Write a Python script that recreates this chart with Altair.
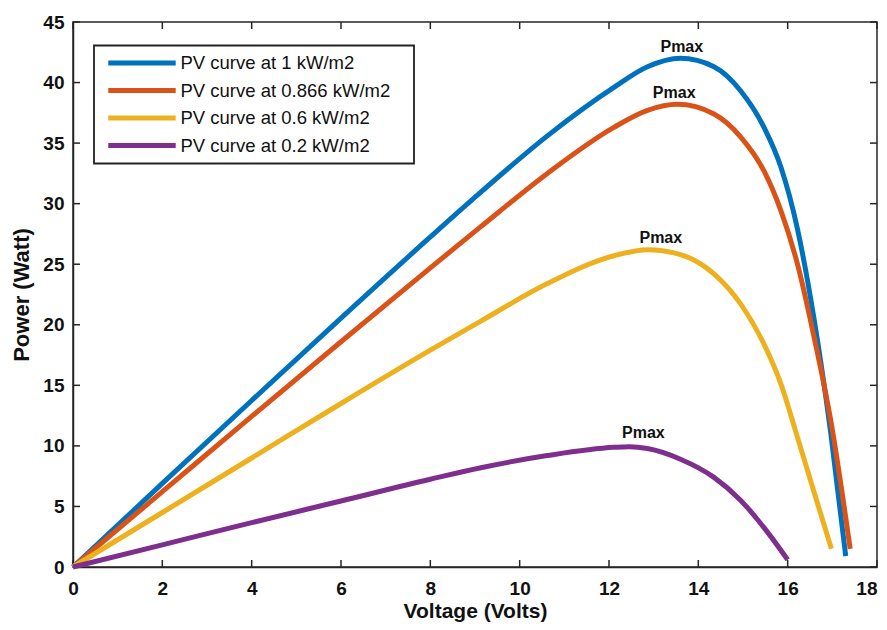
import altair as alt
import pandas as pd

series_names = ["PV curve at 1 kW/m2", "PV curve at 0.866 kW/m2",
                "PV curve at 0.6 kW/m2", "PV curve at 0.2 kW/m2"]
series_colors = ["#0072BD", "#D95319", "#EDB120", "#7E2F8E"]

v_1kw = [0, 2, 4, 6, 8, 9.13, 10.62, 12.11, 12.86, 13.6, 14.35, 14.95, 15.47, 15.85, 16.22, 16.59, 16.97, 17.3]
p_1kw = [0, 6.9, 13.75, 20.55, 27.25, 30.95, 35.6, 39.6, 41.3, 42.0, 41.3, 39.3, 36.3, 33.0, 27.9, 20.5, 10.9, 0.9]

v_0866 = [0, 2, 4, 6, 8, 9.13, 10.62, 12.11, 12.86, 13.53, 14.35, 14.95, 15.47, 15.85, 16.22, 16.59, 16.97, 17.4]
p_0866 = [0, 6.22, 12.44, 18.6, 24.7, 28.1, 32.5, 36.3, 37.7, 38.2, 37.4, 35.5, 32.7, 29.4, 25.0, 19.0, 12.0, 1.5]

v_06 = [0, 2, 4, 6, 8, 9.13, 10.62, 12.11, 12.86, 13.6, 14.35, 14.95, 15.47, 15.85, 16.22, 16.59, 16.98]
p_06 = [0, 4.5, 9.0, 13.5, 17.9, 20.3, 23.4, 25.7, 26.2, 25.8, 24.2, 21.7, 18.4, 15.1, 10.7, 6.2, 1.5]

v_02 = [0, 2, 4, 6, 8, 9.13, 10.62, 12.11, 12.45, 12.86, 13.6, 14.35, 14.95, 15.47, 16.0]
p_02 = [0, 1.83, 3.66, 5.45, 7.25, 8.2, 9.2, 9.88, 9.93, 9.78, 8.9, 7.4, 5.5, 3.25, 0.6]

pmax_label = "Pmax"
pmax_v = [13.63, 13.46, 13.16, 12.77]
pmax_p = [42.9, 39.1, 27.2, 11.1]

x_ticks = [0, 2, 4, 6, 8, 10, 12, 14, 16, 18]
y_ticks = [0, 5, 10, 15, 20, 25, 30, 35, 40, 45]

FONT = "Liberation Sans"
W, H = 804, 545

rows = []
for name, vs, ps in zip(series_names, [v_1kw, v_0866, v_06, v_02], [p_1kw, p_0866, p_06, p_02]):
    for v, p in zip(vs, ps):
        rows.append({"Series": name, "V": v, "P": p})
df = pd.DataFrame(rows)
df_pmax = pd.DataFrame({"V": pmax_v, "P": pmax_p, "label": [pmax_label] * 4})
df_xt = pd.DataFrame({"V": x_ticks})
df_yt = pd.DataFrame({"P": y_ticks})

xscale = alt.Scale(domain=[0, 18], nice=False, zero=False)
yscale = alt.Scale(domain=[0, 45], nice=False, zero=False)

x_axis = alt.Axis(values=x_ticks, ticks=False, labelPadding=12, labelFontSize=19,
                  labelFontWeight="bold", labelFont=FONT, labelColor="#111111",
                  labelFlush=False, labelOverlap=False,
                  labelAlign=alt.condition("datum.value == 18", alt.value("right"), alt.value("center")),
                  title="Voltage (Volts)", titleFontSize=21, titleFontWeight="bold",
                  titleFont=FONT, titleColor="#111111", titleY=50,
                  titleBaseline="alphabetic", grid=False,
                  domainColor="#262626", domainWidth=1.5)
y_axis = alt.Axis(values=y_ticks, ticks=False, labelPadding=9, labelFontSize=19,
                  labelFontWeight="bold", labelFont=FONT, labelColor="#111111",
                  labelFlush=False, labelOverlap=False,
                  title="Power (Watt)", titleFontSize=22, titleFontWeight="bold",
                  titleFont=FONT, titleColor="#111111", titleX=-52,
                  titleBaseline="middle", grid=False,
                  domainColor="#262626", domainWidth=1.5)

legend = alt.Legend(title="x", titleOrient="right", titleOpacity=0, titleFontSize=10,
                    titlePadding=10,
                    orient="none", legendX=21, legendY=23.5,
                    symbolType="M-1,0H9", symbolStrokeWidth=5, symbolSize=182,
                    symbolOffset=3.5, labelOffset=56, labelFontSize=18.5,
                    labelFont=FONT, labelColor="#111111", labelLimit=500,
                    strokeColor="#222222", padding=8, rowPadding=6.5,
                    fillColor="white")

lines = alt.Chart(df).mark_line(strokeWidth=5, interpolate="monotone").encode(
    x=alt.X("V:Q", scale=xscale, axis=x_axis),
    y=alt.Y("P:Q", scale=yscale, axis=y_axis),
    color=alt.Color("Series:N",
                    scale=alt.Scale(domain=series_names, range=series_colors),
                    sort=series_names, legend=legend),
)

labels = alt.Chart(df_pmax).mark_text(fontSize=16, fontWeight="bold", font=FONT,
                                      color="#111111", baseline="middle").encode(
    x=alt.X("V:Q", scale=xscale),
    y=alt.Y("P:Q", scale=yscale),
    text="label:N",
)

tick_color = "#262626"
bottom_ticks = alt.Chart(df_xt).mark_rule(color=tick_color, strokeWidth=1.5).encode(
    x=alt.X("V:Q", scale=xscale), y=alt.value(H), y2=alt.value(H - 7))
top_ticks = alt.Chart(df_xt).mark_rule(color=tick_color, strokeWidth=1.5).encode(
    x=alt.X("V:Q", scale=xscale), y=alt.value(0), y2=alt.value(7))
left_ticks = alt.Chart(df_yt).mark_rule(color=tick_color, strokeWidth=1.5).encode(
    y=alt.Y("P:Q", scale=yscale), x=alt.value(0), x2=alt.value(7))
right_ticks = alt.Chart(df_yt).mark_rule(color=tick_color, strokeWidth=1.5).encode(
    y=alt.Y("P:Q", scale=yscale), x=alt.value(W), x2=alt.value(W - 7))

chart = alt.layer(bottom_ticks, top_ticks, left_ticks, right_ticks, lines, labels).properties(
    width=W, height=H,
    autosize=alt.AutoSizeParams(type="none"),
    padding={"left": 65, "top": 14, "right": 1, "bottom": 55},
).configure_view(stroke="#262626", strokeWidth=1.5
).configure_legend(strokeWidth=1.8)

chart.save("out.html", embed_options={"renderer": "svg", "actions": False})
